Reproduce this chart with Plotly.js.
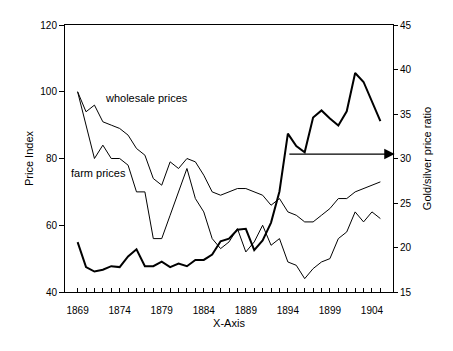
<!DOCTYPE html>
<html>
<head>
<meta charset="utf-8">
<script src="https://cdn.plot.ly/plotly-3.0.1.min.js"></script>
<style>html,body{margin:0;padding:0;background:#fff;}#chart{width:453px;height:351px;}</style>
</head>
<body>
<div id="chart"></div>
<script>
const years = [1869,1870,1871,1872,1873,1874,1875,1876,1877,1878,1879,1880,1881,1882,1883,1884,1885,1886,1887,1888,1889,1890,1891,1892,1893,1894,1895,1896,1897,1898,1899,1900,1901,1902,1903,1904,1905];
const wholesalePrices = [100,94,96,91,90,89,87,83,81,74,72,79,77,80,79,75,70,69,70,71,71,70,69,66,68,64,63,61,61,63,65,68,68,70,71,72,73];
const farmPrices = [100,90,80,84,80,80,78,70,70,56,56,63,70,77,68,64,56,53,55,59,52,55,60,54,56,49,48,44,47,49,50,56,58,64,61,64,62];
const goldSilverRatio = [20.6,17.8,17.3,17.5,17.9,17.8,19.0,19.8,17.9,17.9,18.4,17.8,18.2,17.9,18.6,18.6,19.2,20.7,21.0,22.0,22.1,19.7,20.8,22.8,26.3,32.8,31.4,30.7,34.6,35.4,34.5,33.7,35.3,39.6,38.6,36.4,34.2];
const tickLabelYears = [1869,1874,1879,1884,1889,1894,1899,1904];
const leftTicks = [40,60,80,100,120];
const rightTicks = [15,20,25,30,35,40,45];
const labelWholesale = "wholesale prices";
const labelFarm = "farm prices";
const arrowFromYear = 1894;
const arrowLevel = 30.5;

const FONT = "Liberation Sans, Arial, sans-serif";

const traces = [
  {x: years, y: wholesalePrices, type: 'scatter', mode: 'lines', line: {color: '#000', width: 1}, yaxis: 'y', hoverinfo: 'skip'},
  {x: years, y: farmPrices, type: 'scatter', mode: 'lines', line: {color: '#000', width: 1}, yaxis: 'y', hoverinfo: 'skip'},
  {x: years, y: goldSilverRatio, type: 'scatter', mode: 'lines', line: {color: '#000', width: 2}, yaxis: 'y2', hoverinfo: 'skip'}
];

const layout = {
  width: 453, height: 351,
  margin: {l: 65, r: 60, t: 25, b: 59},
  paper_bgcolor: '#fff', plot_bgcolor: '#fff',
  showlegend: false,
  font: {family: FONT, size: 10, color: '#000'},
  xaxis: {
    range: [1867.5, 1906.5],
    tickmode: 'array',
    tickvals: years,
    ticktext: years.map(y => tickLabelYears.includes(y) ? String(y) : ''),
    ticks: 'inside', ticklen: 4, tickcolor: '#000', tickwidth: 1,
    ticklabelstandoff: 9,
    showline: true, linecolor: '#000', linewidth: 1, mirror: true,
    showgrid: false, zeroline: false,
    tickfont: {family: FONT, size: 10, color: '#000'},
    title: {text: 'X-Axis', font: {family: FONT, size: 11, color: '#000'}, standoff: 4}
  },
  yaxis: {
    range: [40, 120],
    tickmode: 'array', tickvals: leftTicks,
    ticks: 'outside', ticklen: 5, tickcolor: '#000',
    showline: true, linecolor: '#000', linewidth: 1,
    showgrid: false, zeroline: false,
    tickfont: {family: FONT, size: 10, color: '#000'},
    title: {text: 'Price Index', font: {family: FONT, size: 11, color: '#000'}, standoff: 4}
  },
  yaxis2: {
    range: [15, 45],
    overlaying: 'y', side: 'right',
    tickmode: 'array', tickvals: rightTicks,
    ticks: 'outside', ticklen: 4, tickcolor: '#000',
    showline: true, linecolor: '#000', linewidth: 1,
    showgrid: false, zeroline: false,
    tickfont: {family: FONT, size: 10, color: '#000'},
    title: {text: 'Gold/silver price ratio', font: {family: FONT, size: 11, color: '#000'}, standoff: 12}
  },
  annotations: [
    {x: 1872, y: 98, xref: 'x', yref: 'y', text: labelWholesale, showarrow: false, xanchor: 'left', yanchor: 'middle', font: {family: FONT, size: 11, color: '#000'}},
    {x: 1868, y: 75.8, xref: 'x', yref: 'y', text: labelFarm, showarrow: false, xanchor: 'left', yanchor: 'middle', font: {family: FONT, size: 11, color: '#000'}},
    {x: 1906.7, y: arrowLevel, xref: 'x', yref: 'y2', ax: arrowFromYear, ay: arrowLevel, axref: 'x', ayref: 'y2',
     text: '', showarrow: true, arrowhead: 2, arrowsize: 1.6, arrowwidth: 1.3, arrowcolor: '#000', standoff: 0}
  ]
};

Plotly.newPlot('chart', traces, layout, {staticPlot: true, displayModeBar: false});
</script>
</body>
</html>
